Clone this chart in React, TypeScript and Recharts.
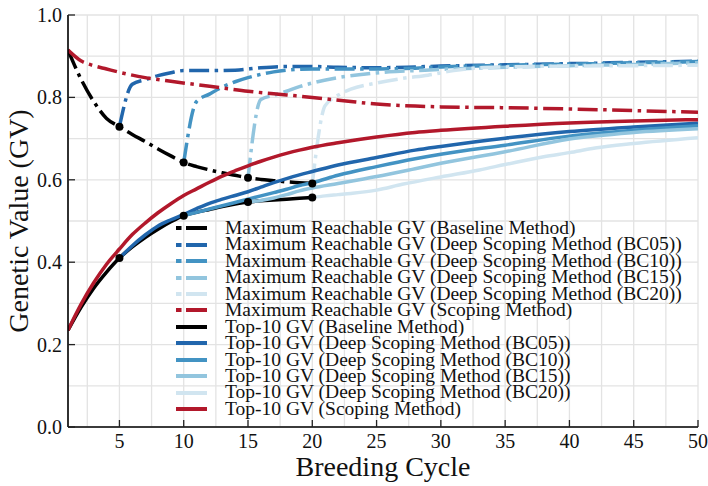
import React from 'react';
import { LineChart, Line, XAxis, YAxis, CartesianGrid, Label } from 'recharts';

// x positions (breeding cycles) for ticks and grid
const xTicks = [5, 10, 15, 20, 25, 30, 35, 40, 45, 50];
const xGrid = [2.5, 5, 7.5, 10, 12.5, 15, 17.5, 20, 22.5, 25, 27.5, 30, 32.5, 35, 37.5, 40, 42.5, 45, 47.5, 50];
const yTicks = [0, 0.2, 0.4, 0.6, 0.8, 1.0];
const yGrid = [0, 0.1, 0.2, 0.3, 0.4, 0.5, 0.6, 0.7, 0.8, 0.9, 1.0];
const markerCycles = [5, 10, 15, 20];

// [cycle, GV]
const maxBaseline: [number, number][] = [
  [1, 0.915], [2, 0.845], [3, 0.79], [4, 0.749], [5, 0.729], [6, 0.71], [7, 0.693], [8, 0.675],
  [9, 0.658], [10, 0.642], [11, 0.632], [12, 0.624], [13, 0.617], [14, 0.611], [15, 0.605],
  [16, 0.601], [17, 0.598], [18, 0.595], [19, 0.593], [20, 0.591],
];
const maxBC05: [number, number][] = [
  [5, 0.729], [6, 0.832], [7, 0.843], [8, 0.853], [9, 0.86], [10, 0.865], [12, 0.865], [14, 0.866],
  [16, 0.872], [18, 0.875], [20, 0.875], [22, 0.873], [25, 0.872], [28, 0.874], [30, 0.876],
  [35, 0.879], [40, 0.882], [45, 0.885], [50, 0.888],
];
const maxBC10: [number, number][] = [
  [10, 0.642], [11, 0.79], [12, 0.808], [13, 0.825], [14, 0.838], [15, 0.848], [16, 0.856],
  [17, 0.862], [18, 0.866], [20, 0.869], [22, 0.869], [25, 0.869], [28, 0.871], [30, 0.874],
  [35, 0.878], [40, 0.881], [45, 0.884], [50, 0.887],
];
const maxBC15: [number, number][] = [
  [15, 0.605], [16, 0.795], [17, 0.805], [18, 0.815], [19, 0.826], [20, 0.835], [22, 0.848],
  [24, 0.856], [26, 0.862], [28, 0.865], [30, 0.868], [35, 0.873], [40, 0.877], [45, 0.88], [50, 0.884],
];
const maxBC20: [number, number][] = [
  [20, 0.591], [21, 0.78], [22, 0.805], [23, 0.82], [25, 0.835], [27, 0.846], [29, 0.854],
  [31, 0.865], [33, 0.872], [35, 0.874], [40, 0.876], [45, 0.877], [50, 0.878],
];
const maxScoping: [number, number][] = [
  [1, 0.915], [2, 0.889], [3, 0.877], [4, 0.869], [5, 0.861], [7, 0.848], [9, 0.839], [11, 0.831],
  [13, 0.823], [15, 0.815], [18, 0.806], [20, 0.8], [23, 0.79], [25, 0.784], [28, 0.779],
  [30, 0.777], [35, 0.775], [40, 0.772], [45, 0.768], [50, 0.764],
];
const topBaseline: [number, number][] = [
  [1, 0.235], [2, 0.29], [3, 0.337], [4, 0.376], [5, 0.41], [6, 0.437], [7, 0.46], [8, 0.48],
  [9, 0.498], [10, 0.513], [11, 0.521], [12, 0.528], [13, 0.535], [14, 0.541], [15, 0.546],
  [16, 0.549], [17, 0.551], [18, 0.553], [19, 0.555], [20, 0.557],
];
const topBC05: [number, number][] = [
  [5, 0.41], [6, 0.44], [7, 0.466], [8, 0.488], [9, 0.503], [10, 0.516], [11, 0.53], [12, 0.543],
  [13, 0.553], [14, 0.562], [15, 0.571], [16, 0.582], [17, 0.593], [18, 0.603], [19, 0.612],
  [20, 0.62], [22, 0.636], [25, 0.654], [28, 0.672], [30, 0.681], [35, 0.701], [40, 0.717],
  [45, 0.728], [50, 0.737],
];
const topBC10: [number, number][] = [
  [10, 0.513], [11, 0.521], [12, 0.529], [13, 0.537], [14, 0.545], [15, 0.553], [16, 0.561],
  [17, 0.569], [18, 0.577], [19, 0.586], [20, 0.593], [22, 0.611], [25, 0.632], [28, 0.651],
  [30, 0.662], [35, 0.684], [40, 0.706], [45, 0.72], [50, 0.731],
];
const topBC15: [number, number][] = [
  [15, 0.546], [16, 0.55], [17, 0.556], [18, 0.564], [19, 0.573], [20, 0.58], [22, 0.591],
  [25, 0.608], [28, 0.627], [30, 0.64], [35, 0.668], [40, 0.699], [45, 0.715], [50, 0.724],
];
const topBC20: [number, number][] = [
  [20, 0.557], [21, 0.561], [22, 0.564], [23, 0.567], [25, 0.575], [27, 0.589], [30, 0.607],
  [33, 0.624], [35, 0.637], [38, 0.656], [40, 0.666], [42, 0.677], [45, 0.688], [50, 0.702],
];
const topScoping: [number, number][] = [
  [1, 0.235], [2, 0.297], [3, 0.35], [4, 0.395], [5, 0.432], [6, 0.467], [7, 0.495], [8, 0.52],
  [9, 0.542], [10, 0.562], [11, 0.578], [12, 0.594], [13, 0.609], [14, 0.622], [15, 0.634],
  [16, 0.645], [17, 0.655], [18, 0.664], [19, 0.672], [20, 0.679], [22, 0.69], [25, 0.704],
  [28, 0.715], [30, 0.72], [35, 0.73], [40, 0.738], [45, 0.743], [50, 0.746],
];

const BLACK = '#000000';
const BLUE1 = '#2166ac';
const BLUE2 = '#4393c3';
const BLUE3 = '#92c5de';
const BLUE4 = '#d1e5f0';
const RED = '#b2182b';

const series = [
  { name: 'Maximum Reachable GV (Baseline Method)', data: maxBaseline, color: BLACK, dashed: true, markers: true },
  { name: 'Maximum Reachable GV (Deep Scoping Method (BC05))', data: maxBC05, color: BLUE1, dashed: true },
  { name: 'Maximum Reachable GV (Deep Scoping Method (BC10))', data: maxBC10, color: BLUE2, dashed: true },
  { name: 'Maximum Reachable GV (Deep Scoping Method (BC15))', data: maxBC15, color: BLUE3, dashed: true },
  { name: 'Maximum Reachable GV (Deep Scoping Method (BC20))', data: maxBC20, color: BLUE4, dashed: true },
  { name: 'Maximum Reachable GV (Scoping Method)', data: maxScoping, color: RED, dashed: true },
  { name: 'Top-10 GV (Baseline Method)', data: topBaseline, color: BLACK, dashed: false, markers: true },
  { name: 'Top-10 GV (Deep Scoping Method (BC05))', data: topBC05, color: BLUE1, dashed: false },
  { name: 'Top-10 GV (Deep Scoping Method (BC10))', data: topBC10, color: BLUE2, dashed: false },
  { name: 'Top-10 GV (Deep Scoping Method (BC15))', data: topBC15, color: BLUE3, dashed: false },
  { name: 'Top-10 GV (Deep Scoping Method (BC20))', data: topBC20, color: BLUE4, dashed: false },
  { name: 'Top-10 GV (Scoping Method)', data: topScoping, color: RED, dashed: false },
];

const FONT = "'Liberation Serif', 'Times New Roman', serif";
const TICK_LEN = 7;
const DASH = '20 5.5 3.5 5.5';
const W = 708;
const H = 486;
const ROW = 16.45;

const BottomTick = ({ x, y, payload }: any) => (
  <g>
    <line x1={x} x2={x} y1={y} y2={y - TICK_LEN} stroke="#222" strokeWidth={1.3} />
    <text x={x} y={y + 21} textAnchor="middle" fontSize={20} fontFamily={FONT} fill="#111">
      {payload.value}
    </text>
  </g>
);

const TopTick = ({ x, y, payload }: any) =>
  payload.value % 5 === 0 ? (
    <line x1={x} x2={x} y1={y} y2={y + TICK_LEN} stroke="#222" strokeWidth={1.3} />
  ) : (
    <g />
  );

const LeftTick = ({ x, y, payload }: any) => (
  <g>
    <line x1={x} x2={x + TICK_LEN} y1={y} y2={y} stroke="#222" strokeWidth={1.3} />
    <text x={x - 6} y={y + 7} textAnchor="end" fontSize={20} fontFamily={FONT} fill="#111">
      {payload.value.toFixed(1)}
    </text>
  </g>
);

const RightTick = ({ x, y, payload }: any) => {
  const major = Math.abs(payload.value * 5 - Math.round(payload.value * 5)) < 1e-6;
  return major ? <line x1={x} x2={x - TICK_LEN} y1={y} y2={y} stroke="#222" strokeWidth={1.3} /> : <g />;
};

const renderMarker = (p: any) =>
  markerCycles.includes(p.payload.x) ? (
    <circle key={`m-${p.index}`} cx={p.cx} cy={p.cy} r={4} fill={BLACK} />
  ) : (
    <g key={`m-${p.index}`} />
  );

const XTitle = ({ viewBox }: any) => (
  <text x={viewBox.x + viewBox.width / 2} y={476} textAnchor="middle" fontSize={28} fontFamily={FONT} fill="#111">
    Breeding Cycle
  </text>
);

const YTitle = ({ viewBox }: any) => {
  const cy = viewBox.y + viewBox.height / 2;
  return (
    <text x={28} y={cy} transform={`rotate(-90, 28, ${cy})`} textAnchor="middle" fontSize={28} fontFamily={FONT} fill="#111">
      Genetic Value (GV)
    </text>
  );
};

const axisLine = { stroke: '#000', strokeWidth: 1.6 };

export default function App() {
  return (
    <div style={{ position: 'absolute', left: 0, top: 0, width: W, height: H, background: '#fff' }}>
      <LineChart width={W} height={H} margin={{ top: 15, right: 10, bottom: 0, left: 0 }}>
        <CartesianGrid xAxisId="top" yAxisId="right" stroke="#e3e3e3" strokeWidth={1.3} />
        <XAxis
          type="number"
          dataKey="x"
          domain={[1, 50]}
          allowDataOverflow
          ticks={xTicks}
          interval={0}
          height={59}
          tickSize={0}
          tickMargin={0}
          tickLine={false}
          tick={<BottomTick />}
          axisLine={axisLine}
        >
          <Label content={<XTitle />} />
        </XAxis>
        <XAxis
          xAxisId="top"
          orientation="top"
          type="number"
          dataKey="x"
          domain={[1, 50]}
          allowDataOverflow
          ticks={xGrid}
          interval={0}
          height={0}
          tickSize={0}
          tickMargin={0}
          tickLine={false}
          tick={<TopTick />}
          axisLine={axisLine}
        />
        <YAxis
          type="number"
          domain={[0, 1]}
          allowDataOverflow
          ticks={yTicks}
          interval={0}
          width={68}
          tickSize={0}
          tickMargin={0}
          tickLine={false}
          tick={<LeftTick />}
          axisLine={axisLine}
        >
          <Label content={<YTitle />} />
        </YAxis>
        <YAxis
          yAxisId="right"
          orientation="right"
          type="number"
          domain={[0, 1]}
          allowDataOverflow
          ticks={yGrid}
          interval={0}
          width={0}
          tickSize={0}
          tickMargin={0}
          tickLine={false}
          tick={<RightTick />}
          axisLine={axisLine}
        />
        {series.map((s) => (
          <Line
            key={s.name}
            data={s.data.map(([x, y]) => ({ x, y }))}
            dataKey="y"
            type="monotone"
            stroke={s.color}
            strokeWidth={3.5}
            strokeDasharray={s.dashed ? DASH : undefined}
            dot={s.markers ? renderMarker : false}
            activeDot={false}
            isAnimationActive={false}
          />
        ))}
      </LineChart>
      <div style={{ position: 'absolute', left: 170, top: 220, fontFamily: FONT, fontSize: 19.5, color: '#111' }}>
        {series.map((s) => (
          <div key={s.name} style={{ display: 'flex', alignItems: 'center', height: ROW, whiteSpace: 'nowrap' }}>
            <svg width={31} height={8} style={{ marginLeft: 6, marginRight: 18, flex: 'none' }}>
              {s.dashed ? (
                <>
                  <rect x={0} y={2} width={5.5} height={4} fill={s.color} />
                  <rect x={10} y={2} width={21} height={4} fill={s.color} />
                </>
              ) : (
                <rect x={0} y={2} width={31} height={4} fill={s.color} />
              )}
            </svg>
            <span style={{ lineHeight: `${ROW}px` }}>{s.name}</span>
          </div>
        ))}
      </div>
    </div>
  );
}
